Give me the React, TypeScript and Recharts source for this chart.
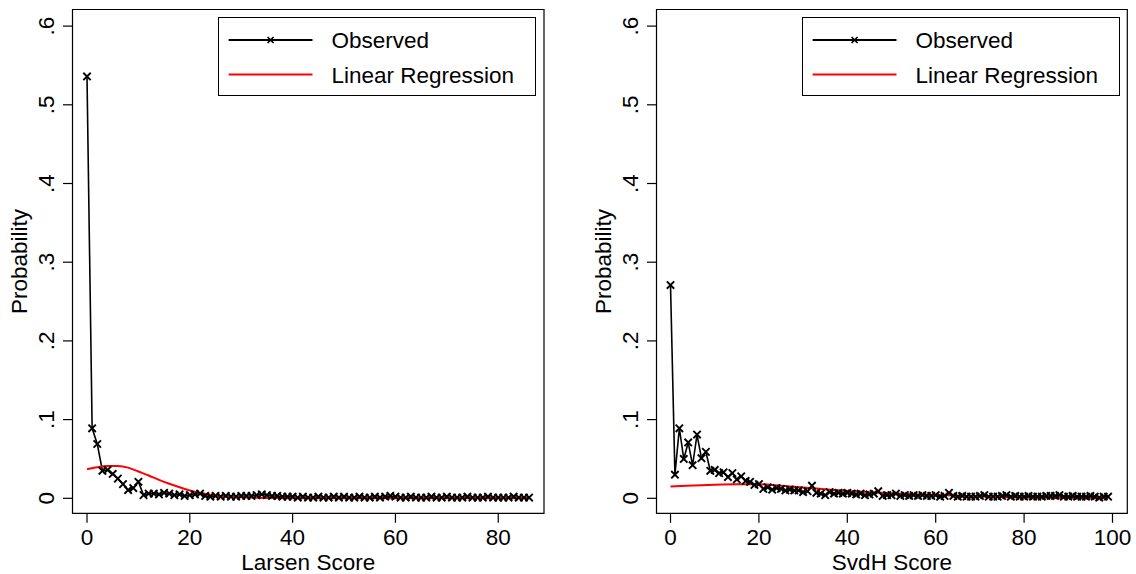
import React from 'react';
import { LineChart, Line, XAxis, YAxis, ReferenceArea, Legend } from 'recharts';

const FONT = '"Liberation Sans", Arial, Helvetica, sans-serif';
const FS = 22.5;

// Larsen score (x = 0..86), observed probability
const larsenObserved = [
  0.536, 0.089, 0.069, 0.035, 0.036, 0.031, 0.025, 0.018, 0.0105, 0.013,
  0.021, 0.004, 0.006, 0.006, 0.005, 0.007, 0.006, 0.004, 0.005, 0.003,
  0.004, 0.005, 0.006, 0.003, 0.002, 0.003, 0.002, 0.003, 0.002, 0.002,
  0.003, 0.003, 0.003, 0.004, 0.005, 0.004, 0.003, 0.003, 0.002, 0.002,
  0.002, 0.001, 0.002, 0.001, 0.001, 0.002, 0.001, 0.001, 0.002, 0.001,
  0.002, 0.001, 0.001, 0.002, 0.001, 0.001, 0.002, 0.001, 0.002, 0.003,
  0.002, 0.001, 0.001, 0.002, 0.001, 0.001, 0.001, 0.002, 0.001, 0.001,
  0.002, 0.001, 0.001, 0.001, 0.002, 0.001, 0.001, 0.001, 0.002, 0.001,
  0.001, 0.001, 0.001, 0.002, 0.001, 0.001, 0.001,
];
const larsenFitX = [0, 2, 4, 6, 8, 10, 12, 14, 16, 18, 20, 22, 24, 26, 28, 30, 33, 36, 40, 45, 50, 60, 70, 80, 86];
const larsenFitY = [
  0.037, 0.0395, 0.041, 0.041, 0.039, 0.034, 0.029, 0.0235, 0.0185, 0.014,
  0.0098, 0.0068, 0.0046, 0.003, 0.002, 0.0013, 0.0007, 0.0004, 0.0002, 0.0001,
  0, 0, 0, 0, 0,
];

// SvdH score (x = 0..99), observed probability
const svdhObserved = [
  0.271, 0.030, 0.089, 0.050, 0.071, 0.042, 0.081, 0.051, 0.059, 0.035,
  0.036, 0.032, 0.033, 0.027, 0.032, 0.024, 0.028, 0.022, 0.021, 0.017,
  0.018, 0.012, 0.014, 0.011, 0.013, 0.012, 0.010, 0.011, 0.010, 0.010,
  0.008, 0.009, 0.016, 0.007, 0.006, 0.004, 0.008, 0.006, 0.007, 0.006,
  0.007, 0.006, 0.005, 0.006, 0.004, 0.005, 0.006, 0.009, 0.003, 0.004,
  0.004, 0.006, 0.003, 0.004, 0.003, 0.004, 0.003, 0.004, 0.003, 0.003,
  0.004, 0.002, 0.003, 0.007, 0.003, 0.002, 0.003, 0.002, 0.002, 0.002,
  0.003, 0.004, 0.002, 0.002, 0.002, 0.003, 0.004, 0.002, 0.003, 0.002,
  0.002, 0.003, 0.002, 0.002, 0.002, 0.003, 0.003, 0.003, 0.004, 0.002,
  0.002, 0.003, 0.002, 0.002, 0.002, 0.003, 0.002, 0.001, 0.002, 0.002,
];
const svdhFitX = [0, 5, 10, 15, 20, 25, 30, 35, 40, 45, 50, 55, 60, 65, 70, 75, 80, 85, 90, 95, 99];
const svdhFitY = [
  0.015, 0.0163, 0.0173, 0.0178, 0.0178, 0.016, 0.0138, 0.0115, 0.0093, 0.0078,
  0.0064, 0.0052, 0.0043, 0.0033, 0.0024, 0.0015, 0.001, 0.0006, 0.0004, 0.0002, 0.0001,
];

const yTicks = [0, 0.1, 0.2, 0.3, 0.4, 0.5, 0.6];
const larsenTicks = [0, 20, 40, 60, 80];
const svdhTicks = [0, 20, 40, 60, 80, 100];

const yDomain: [number, number] = [-0.01906, 0.6211];

const fmtY = (v: number) => (v === 0 ? '0' : '.' + Math.round(v * 10));

const XDot = (props: any) => {
  const { cx, cy, index } = props;
  if (cx == null || cy == null) return <g key={`d${index}`} />;
  const s = 3.7;
  return (
    <path
      key={`d${index}`}
      d={`M${cx - s},${cy - s}L${cx + s},${cy + s}M${cx - s},${cy + s}L${cx + s},${cy - s}`}
      stroke="#000"
      strokeWidth={1.9}
      fill="none"
    />
  );
};

const XTick = (props: any) => {
  const { x, payload } = props;
  return (
    <text x={x} y={544.5} textAnchor="middle" fontSize={FS} fontFamily={FONT} fill="#000">
      {payload.value}
    </text>
  );
};

const YTick = (props: any) => {
  const { y, payload } = props;
  const lx = 53.6;
  return (
    <text
      x={lx}
      y={y}
      transform={`rotate(-90 ${lx} ${y})`}
      textAnchor="middle"
      fontSize={FS}
      fontFamily={FONT}
      fill="#000"
    >
      {fmtY(payload.value)}
    </text>
  );
};

const LegendBox = () => (
  <div
    style={{
      width: 318,
      height: 79,
      border: '1px solid #000',
      boxSizing: 'border-box',
      background: '#fff',
    }}
  >
    <svg width={316} height={77} style={{ display: 'block' }}>
      <line x1={9.6} x2={93.5} y1={22} y2={22} stroke="#000" strokeWidth={1.8} />
      <path d="M48.6,19L54.6,25M48.6,25L54.6,19" stroke="#000" strokeWidth={1.7} fill="none" />
      <text x={112.5} y={30} fontSize={FS} fontFamily={FONT} fill="#000">Observed</text>
      <line x1={9.6} x2={93.5} y1={56.5} y2={56.5} stroke="#ff0000" strokeWidth={1.9} />
      <text x={112.5} y={64.5} fontSize={FS} fontFamily={FONT} fill="#000">Linear Regression</text>
    </svg>
  </div>
);

type PanelProps = {
  left: number;
  width: number;
  marginRight: number;
  xDomain: [number, number];
  xTicks: number[];
  xLabel: string;
  observed: number[];
  fitX: number[];
  fitY: number[];
};

const Panel = ({ left, width, marginRight, xDomain, xTicks, xLabel, observed, fitX, fitY }: PanelProps) => {
  const obsData = observed.map((y, i) => ({ x: i, y }));
  const fitData = fitX.map((x, i) => ({ x, y: fitY[i] }));
  return (
    <div style={{ position: 'absolute', left, top: 0, width, height: 574 }}>
      <LineChart width={width} height={574} margin={{ top: 9.5, right: marginRight, bottom: 0, left: 0 }}>
        <XAxis
          type="number"
          dataKey="x"
          domain={xDomain}
          ticks={xTicks}
          interval={0}
          allowDataOverflow
          height={60.7}
          axisLine={false}
          tickLine={{ stroke: '#000', strokeWidth: 1.2 }}
          tickSize={9.5}
          tick={<XTick />}
          label={{
            value: xLabel,
            content: (p: any) => {
              const vb = p.viewBox || {};
              return (
                <text
                  x={vb.x + vb.width / 2}
                  y={570}
                  textAnchor="middle"
                  fontSize={FS}
                  fontFamily={FONT}
                  fill="#000"
                >
                  {xLabel}
                </text>
              );
            },
          }}
        />
        <YAxis
          type="number"
          dataKey="y"
          domain={yDomain}
          ticks={yTicks}
          interval={0}
          allowDataOverflow
          width={72.5}
          axisLine={false}
          tickLine={{ stroke: '#000', strokeWidth: 1.2 }}
          tickSize={9.5}
          tick={<YTick />}
          label={{
            value: 'Probability',
            content: (p: any) => {
              const vb = p.viewBox || {};
              const cy = vb.y + vb.height / 2;
              return (
                <text
                  x={27.5}
                  y={cy}
                  transform={`rotate(-90 27.5 ${cy})`}
                  textAnchor="middle"
                  fontSize={FS}
                  fontFamily={FONT}
                  fill="#000"
                >
                  Probability
                </text>
              );
            },
          }}
        />
        <ReferenceArea
          x1={xDomain[0]}
          x2={xDomain[1]}
          y1={yDomain[0]}
          y2={yDomain[1]}
          fill="none"
          fillOpacity={0}
          stroke="#000"
          strokeWidth={1.2}
          ifOverflow="visible"
        />
        <Line
          data={obsData}
          dataKey="y"
          type="linear"
          stroke="#000"
          strokeWidth={1.6}
          dot={XDot}
          activeDot={false}
          isAnimationActive={false}
        />
        <Line
          data={fitData}
          dataKey="y"
          type="monotone"
          stroke="#ff0000"
          strokeWidth={2}
          dot={false}
          activeDot={false}
          isAnimationActive={false}
        />
        <Legend
          layout="horizontal"
          verticalAlign="middle"
          align="center"
          wrapperStyle={{ position: 'absolute', left: 218, top: 17, width: 318, height: 79 }}
          content={() => <LegendBox />}
        />
      </LineChart>
    </div>
  );
};

export default function App() {
  return (
    <div style={{ position: 'absolute', left: 0, top: 0, width: 1136, height: 574, background: '#fff' }}>
      <Panel
        left={0}
        width={584}
        marginRight={40}
        xDomain={[-2.82, 88.9]}
        xTicks={larsenTicks}
        xLabel="Larsen Score"
        observed={larsenObserved}
        fitX={larsenFitX}
        fitY={larsenFitY}
      />
      <Panel
        left={584}
        width={552}
        marginRight={8.7}
        xDomain={[-3.17, 103.35]}
        xTicks={svdhTicks}
        xLabel="SvdH Score"
        observed={svdhObserved}
        fitX={svdhFitX}
        fitY={svdhFitY}
      />
    </div>
  );
}
